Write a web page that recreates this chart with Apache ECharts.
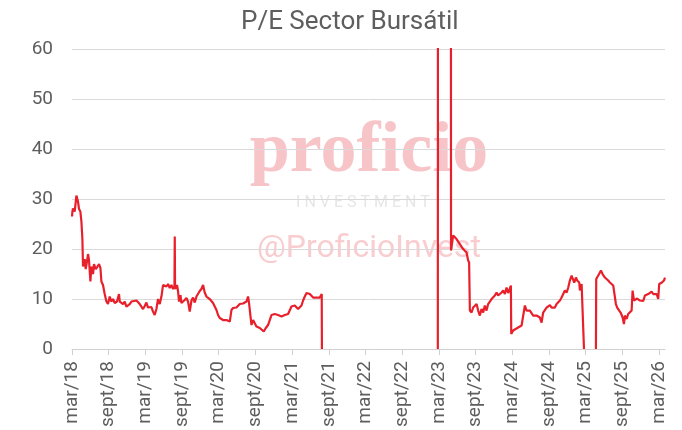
<!DOCTYPE html>
<html><head><meta charset="utf-8">
<script src="https://cdn.jsdelivr.net/npm/echarts@6/dist/echarts.min.js"></script>
<style>html,body{margin:0;padding:0;background:#fff}#c{width:682px;height:430px}</style>
</head><body><div id="c"></div>
<script>
// x position = months elapsed since March 2018
const tickLabels = ['mar/18','sept/18','mar/19','sept/19','mar/20','sept/20','mar/21','sept/21','mar/22','sept/22','mar/23','sept/23','mar/24','sept/24','mar/25','sept/25','mar/26'];
const yTicks = [0, 10, 20, 30, 40, 50, 60];

const months2018 = [0,0.07,0.16,0.44,0.72,0.98,1.15,1.37,1.54,1.70,1.80,2.08,2.24,2.45,2.62,2.78,3.01,3.17,3.44,3.60,3.88,4.16,4.42,4.65,4.81,5.07,5.35,5.63,5.89,6.17,6.45,6.71,6.99,7.36,7.69,7.81,8.08,8.35,8.62,8.90,9.16,9.44,9.72,9.98,10.54,10.80,11.08,11.36,11.62,11.90,12.17,12.44,12.71,12.99,13.25,13.53,13.81,14.07,14.35,14.63,14.89,15.17,15.45,15.71,15.99,16.27,16.53,16.76,16.81,16.86,17.18,17.35,17.51,17.74,17.90,18.16,18.44,18.72,18.98,19.26];
const pe2018 = [26.5,27.5,28.1,27.5,30.7,29.5,28,27.5,25.5,22,16.5,18,16,17.5,19,17.8,13.5,16.5,15,17,16,16.5,17,16.2,13.5,12.8,11,9.5,9,10.5,9.5,10,9.2,9.5,11,9.5,9.3,9,9.5,8.5,8.6,9,9.5,9.7,9.7,9.4,9,9,8,8.6,9.3,8.3,8.2,8.4,7.5,6.8,8,10,9,10.5,12.8,12.5,12.5,13,12.2,12.8,12,12.5,22.5,12,12.8,11.5,9.5,10.8,9.2,9.4,9.8,10.2,9.5,7.5];

const months2019 = [19.54,19.80,20.08,20.36,20.62,20.90,21.17,21.44,21.71,21.99,22.26,22.53,22.81,23.07,23.35,23.63,23.89,24.17,24.45,24.71,25.27,25.81,26.08,26.35,26.90,27.44,27.98,28.54,28.80,28.96,29.19,29.36,29.62,29.90,30.17,30.72,30.99,31.37,31.70,32.07,32.63,33.17,33.71,34.27,34.81,35.35,35.90,36.44,36.98,37.54,37.80,38.08,38.36,38.62,38.90,39.17,39.44,39.72,39.99,40.53,40.85,40.88];
const pe2019 = [9.7,10.3,9.3,10.5,10.8,11.6,12,12.8,11.3,10.5,10.8,10,9.7,9.2,8.5,7.8,6.8,6.2,6.5,5.8,5.8,5.5,7.8,8.2,8.3,9,9.1,9.5,10.5,9.2,9,4.8,5.8,5.5,4.5,4.2,3.9,3.5,4.2,4.8,6.8,7,6.8,6.5,6.8,7,8.5,8.7,8,8.7,9.7,10.5,11.2,11.3,11,10.7,10.3,10.6,10.3,10.3,11,0];

const months2023 = [59.84,59.86,61.98,62.0,62.35,62.62,62.90,63.16,63.44,63.72,63.98,64.26,64.54,64.80,64.96,65.08,65.36,65.62,65.90,66.18,66.44,66.71,66.99,67.26,67.53,67.81,68.07,68.35,68.63,68.89,69.17,69.45,69.71,69.99,70.27,70.53,70.81,71.08,71.35,71.62,71.79,71.85,72.16,72.44,72.98,73.54,73.80,74.08,74.36,74.62,74.90,75.44,75.99,76.53,76.81,77.07,77.63,78.17,78.45,78.71,78.99,79.27,79.53,79.81,80.08,80.35,80.62,80.90,81.17,81.44,81.72,81.98,82.15,82.43,82.64,82.97,83.08,83.36,83.62,83.72,83.75];
const pe2023 = [0,80,80,19.7,22.7,23,22,22.3,21,21.3,20,20.3,19.3,17.7,17.3,7.7,7.3,8.3,8,9,7.7,6.7,8,7.3,8.7,7.7,9,8.7,10,10.3,10.7,11.3,10.7,11,11.3,11.7,11,12.3,11.2,11.5,12.7,3,3.7,4,4.3,4.7,5,8.7,7.7,8,7.7,6.7,6.7,6.3,5.3,7.3,8.3,8.8,8.3,8.6,8.3,9,9.3,9.7,10.3,11,11.7,11.3,12.3,13.7,14.7,15,13.3,14.3,13.7,13.3,11.7,13,12.7,12.7,0];

const months2025 = [85.70,85.75,86.08,86.35,86.52,86.79,87.17,87.45,87.71,87.99,88.27,88.53,88.81,88.97,89.18,89.51,89.74,90.07,90.28,90.44,90.72,90.98,91.26,91.54,91.70,91.92,92.13,92.46,92.90,93.18,93.44,93.72,93.99,94.26,94.53,94.81,95.07,95.35,95.63,95.89,96.05,96.28,96.50,96.83,97.0];
const pe2025 = [0,14,14.7,15.3,15.7,15,14.3,14,13.7,13.3,13,12.7,12.9,9,8.3,7.7,7.3,6.3,5,6.7,6,7,6.7,7.7,11.7,9.7,10,10.1,9.7,10,9.6,10.7,10.7,11,11.3,11.5,11,11.3,11,10,13,12.7,13.3,13.7,14.3];

// months with no data (breaks in the line)
const gapMonths = [50, 84.7];

const segments = [[months2018, pe2018], [months2019, pe2019], [months2023, pe2023], [months2025, pe2025]];
const data = [];
segments.forEach((s, k) => {
  s[0].forEach((m, i) => data.push([m, s[1][i]]));
  if (k === 1) data.push([gapMonths[0], '-']);
  if (k === 2) data.push([gapMonths[1], '-']);
});

const gray = '#5e5e5e';
const chart = echarts.init(document.getElementById('c'));
chart.setOption({
  animation: false,
  backgroundColor: '#ffffff',
  title: {
    text: 'P/E Sector Bursátil', left: 236, top: 4,
    textStyle: {fontFamily: 'Roboto', fontSize: 26, fontWeight: 'normal', color: gray}
  },
  grid: {left: 72, right: 17, top: 49, bottom: 80},
  graphic: {elements: [
    {type: 'text', x: 369, y: 152, z: -10, silent: true,
     style: {text: 'proficio', fill: '#f7c5c8', font: 'bold 72px "Liberation Serif"', textAlign: 'center', textVerticalAlign: 'middle'}},
    {type: 'text', x: 363, y: 203, z: -10, silent: true,
     style: {text: 'I N V E S T M E N T', fill: '#e6e6e6', font: '16px Roboto', textAlign: 'center', textVerticalAlign: 'middle'}},
    {type: 'text', x: 369, y: 249, z: -10, silent: true,
     style: {text: '@ProficioInvest', fill: '#f9cdcf', font: '32px Roboto', textAlign: 'center', textVerticalAlign: 'middle'}}
  ]},
  xAxis: {
    type: 'value', min: 0, max: 97,
    axisLine: {lineStyle: {color: '#d0d0d0', width: 1}},
    axisTick: {show: true, length: 6, lineStyle: {color: '#d0d0d0'}, customValues: tickLabels.map((t, i) => i * 6)},
    splitLine: {show: false},
    axisLabel: {
      rotate: 90, margin: 12, fontFamily: 'Roboto', fontSize: 19, color: gray,
      customValues: tickLabels.map((t, i) => i * 6),
      formatter: v => tickLabels[Math.round(v / 6)] || ''
    }
  },
  yAxis: {
    type: 'value', min: yTicks[0], max: yTicks[yTicks.length - 1], interval: 10,
    axisLine: {show: false}, axisTick: {show: false},
    splitLine: {lineStyle: {color: '#d9d9d9', width: 1}},
    axisLabel: {margin: 19, fontFamily: 'Roboto', fontSize: 19, color: gray}
  },
  series: [{
    type: 'line', data: data, showSymbol: false, connectNulls: false, clip: true,
    lineStyle: {color: '#e8202b', width: 2.2}, itemStyle: {color: '#e8202b'}, z: 5
  }]
});
</script></body></html>
